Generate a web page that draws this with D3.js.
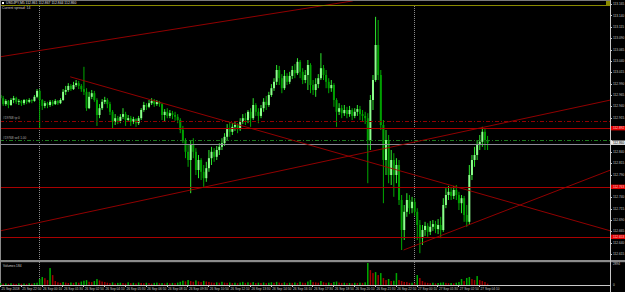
<!DOCTYPE html>
<html><head><meta charset="utf-8">
<script src="https://cdn.jsdelivr.net/npm/d3@7"></script>
<style>html,body{margin:0;padding:0;background:#000;overflow:hidden}svg{display:block}</style>
</head><body><svg id="c" width="625" height="292"></svg>
<script>
// ---------------- DATA ----------------
const symbolTitle = "USDJPY,M5  112.861 112.867 112.844 112.860";
const spreadText = "Current spread: 14";
const volumeTitle = "Volumes";
const barStart = Date.UTC(2018, 8, 25, 21, 30);
const barMinutes = 10;

const opens = [
112.965,112.958,112.945,112.952,112.943,112.954,112.958,112.950,112.952,112.947,
112.954,112.950,112.954,112.952,112.961,112.974,112.954,112.941,112.947,112.943,
112.950,112.945,112.952,112.947,112.954,112.972,112.976,112.985,112.978,112.987,
112.991,112.985,112.978,112.972,112.936,112.961,112.969,112.954,112.921,112.936,
112.950,112.954,112.945,112.928,112.906,112.914,112.908,112.917,112.923,112.910,
112.914,112.906,112.912,112.903,112.914,112.932,112.943,112.939,112.947,112.952,
112.945,112.950,112.945,112.921,112.928,112.919,112.925,112.921,112.917,112.910,
112.888,112.866,112.840,112.822,112.855,112.840,112.800,112.822,112.796,112.782,
112.804,112.826,112.840,112.829,112.844,112.851,112.859,112.873,112.892,112.884,
112.895,112.899,112.890,112.906,112.914,112.910,112.928,112.914,112.943,112.928,
112.919,112.936,112.950,112.943,112.965,112.980,112.994,113.020,113.002,112.980,
113.007,112.994,113.007,113.020,113.013,113.038,113.016,112.998,113.009,113.031,
112.987,112.976,112.989,113.002,113.024,113.009,112.994,112.980,112.987,112.954,
112.928,112.936,112.925,112.932,112.923,112.932,112.919,112.928,112.934,112.923,
112.919,112.914,112.866,112.954,112.998,113.075,113.009,112.899,112.822,112.866,
112.789,112.822,112.789,112.811,112.734,112.668,112.708,112.734,112.716,112.730,
112.708,112.679,112.650,112.668,112.677,112.664,112.675,112.681,112.670,112.679,
112.668,112.723,112.745,112.752,112.743,112.756,112.745,112.727,112.738,112.701,
112.686,112.789,112.822,112.833,112.855,112.862,112.884,112.866];

const highs = [
112.976,112.963,112.956,112.954,112.958,112.963,112.961,112.956,112.954,112.956,
112.956,112.958,112.956,112.965,112.978,112.978,112.956,112.952,112.950,112.954,
112.954,112.956,112.954,112.958,112.978,112.985,112.991,112.989,112.994,112.998,
112.996,112.989,113.027,112.980,112.972,112.976,112.974,112.958,112.945,112.956,
112.961,112.958,112.950,112.932,112.923,112.919,112.923,112.936,112.928,112.921,
112.919,112.917,112.914,112.919,112.936,112.950,112.947,112.954,112.958,112.956,
112.954,112.952,112.947,112.934,112.936,112.932,112.930,112.928,112.923,112.914,
112.897,112.870,112.855,112.866,112.870,112.848,112.833,112.826,112.811,112.818,
112.844,112.851,112.848,112.853,112.859,112.870,112.881,112.901,112.906,112.903,
112.906,112.903,112.914,112.923,112.925,112.932,112.936,112.958,112.947,112.936,
112.943,112.958,112.963,112.972,112.989,113.002,113.031,113.029,113.011,113.020,
113.013,113.016,113.029,113.033,113.046,113.042,113.024,113.020,113.042,113.035,
112.998,113.002,113.011,113.057,113.031,113.020,113.002,112.998,112.991,112.958,
112.947,112.943,112.943,112.939,112.941,112.936,112.936,112.943,112.941,112.932,
112.928,112.925,112.965,113.009,113.137,113.130,113.020,112.910,112.888,112.877,
112.844,112.837,112.826,112.822,112.745,112.723,112.749,112.745,112.741,112.738,
112.716,112.690,112.679,112.686,112.683,112.688,112.690,112.688,112.692,112.697,
112.738,112.760,112.765,112.763,112.765,112.767,112.752,112.745,112.743,112.723,
112.811,112.833,112.851,112.866,112.877,112.895,112.892,112.875];

const lows = [
112.954,112.941,112.941,112.936,112.941,112.947,112.945,112.943,112.941,112.943,
112.945,112.947,112.947,112.950,112.958,112.892,112.932,112.936,112.936,112.939,
112.941,112.943,112.943,112.945,112.952,112.965,112.972,112.974,112.976,112.983,
112.978,112.972,112.965,112.930,112.934,112.956,112.950,112.897,112.914,112.932,
112.945,112.936,112.921,112.892,112.899,112.901,112.903,112.912,112.897,112.906,
112.897,112.901,112.895,112.899,112.910,112.928,112.932,112.936,112.943,112.939,
112.941,112.939,112.910,112.906,112.914,112.914,112.912,112.908,112.903,112.881,
112.859,112.826,112.807,112.749,112.826,112.789,112.782,112.778,112.763,112.774,
112.796,112.811,112.818,112.822,112.833,112.844,112.853,112.866,112.873,112.877,
112.886,112.881,112.886,112.901,112.899,112.903,112.895,112.910,112.919,112.903,
112.914,112.928,112.932,112.939,112.961,112.974,112.987,112.987,112.969,112.976,
112.987,112.989,113.000,113.002,113.009,113.002,112.989,112.991,112.976,112.969,
112.965,112.961,112.980,112.998,112.998,112.980,112.969,112.972,112.939,112.895,
112.921,112.914,112.919,112.914,112.917,112.910,112.914,112.919,112.910,112.906,
112.901,112.771,112.844,112.932,112.994,112.998,112.888,112.727,112.789,112.771,
112.767,112.741,112.771,112.723,112.624,112.646,112.697,112.703,112.705,112.699,
112.646,112.617,112.635,112.655,112.653,112.657,112.666,112.661,112.659,112.650,
112.664,112.716,112.734,112.734,112.736,112.734,112.712,112.705,112.686,112.675,
112.679,112.778,112.807,112.822,112.844,112.851,112.844,112.844];

const closes = [
112.958,112.945,112.952,112.943,112.954,112.958,112.950,112.952,112.947,112.954,
112.950,112.954,112.952,112.961,112.974,112.954,112.941,112.947,112.943,112.950,
112.945,112.952,112.947,112.954,112.972,112.976,112.985,112.978,112.987,112.991,
112.985,112.978,112.972,112.936,112.961,112.969,112.954,112.921,112.936,112.950,
112.954,112.945,112.928,112.906,112.914,112.908,112.917,112.923,112.910,112.914,
112.906,112.912,112.903,112.914,112.932,112.943,112.939,112.947,112.952,112.945,
112.950,112.945,112.921,112.928,112.919,112.925,112.921,112.917,112.910,112.888,
112.866,112.840,112.822,112.855,112.840,112.800,112.822,112.796,112.782,112.804,
112.826,112.840,112.829,112.844,112.851,112.859,112.873,112.892,112.884,112.895,
112.899,112.890,112.906,112.914,112.910,112.928,112.914,112.943,112.928,112.919,
112.936,112.950,112.943,112.965,112.980,112.994,113.020,113.002,112.980,113.007,
112.994,113.007,113.020,113.013,113.038,113.016,112.998,113.009,113.031,112.987,
112.976,112.989,113.002,113.024,113.009,112.994,112.980,112.987,112.954,112.928,
112.936,112.925,112.932,112.923,112.932,112.919,112.928,112.934,112.923,112.919,
112.914,112.866,112.954,112.998,113.075,113.009,112.899,112.822,112.866,112.789,
112.822,112.789,112.811,112.734,112.668,112.708,112.734,112.716,112.730,112.708,
112.679,112.650,112.668,112.677,112.664,112.675,112.681,112.670,112.679,112.668,
112.723,112.745,112.752,112.743,112.756,112.745,112.727,112.738,112.701,112.686,
112.789,112.822,112.833,112.855,112.862,112.884,112.866,112.860];

const volumes = [
240,180,210,160,230,190,150,220,170,200,160,230,180,260,
300,790,1050,900,640,2230,1300,520,
350,280,390,310,260,330,280,370,300,
450,560,640,420,380,520,780,600,450,390,
300,250,340,220,280,310,260,200,350,240,290,210,330,270,230,300,250,190,280,320,240,260,210,300,230,280,250,310,
420,560,480,650,520,430,600,470,380,540,460,400,
330,290,350,300,420,310,280,330,260,300,240,320,410,280,350,300,380,260,310,270,
330,250,300,360,290,410,320,270,350,240,300,280,330,260,420,310,280,450,660,380,
340,300,520,360,290,330,250,400,460,320,280,300,250,270,230,290,260,310,280,350,
2894,1960,1570,1700,1310,1570,920,650,790,520,560,1570,650,520,400,390,280,300,260,1310,
920,520,330,280,240,300,220,260,310,350,280,240,260,220,300,390,790,520,920,1050,
790,650,1180,650,520,390,184];

const priceTicks = [113.165,113.140,113.115,113.090,113.065,113.040,113.015,112.990,112.965,112.940,
  112.915,112.890,112.865,112.840,112.815,112.790,112.765,112.740,112.715,112.690,112.665,112.640,112.615];

const timeTicks = ["2018-09-25T21:30","2018-09-25T22:50","2018-09-26T00:10","2018-09-26T01:30","2018-09-26T02:50",
  "2018-09-26T04:10","2018-09-26T05:30","2018-09-26T06:50","2018-09-26T08:10","2018-09-26T09:30","2018-09-26T10:50",
  "2018-09-26T12:10","2018-09-26T13:30","2018-09-26T14:50","2018-09-26T16:10","2018-09-26T17:30","2018-09-26T18:50",
  "2018-09-26T20:10","2018-09-26T21:30","2018-09-26T22:50","2018-09-27T00:10","2018-09-27T01:30","2018-09-27T02:50",
  "2018-09-27T04:10"];
const timeTickLabels = ["25 Sep 2018","25 Sep 22:50","26 Sep 00:10","26 Sep 01:30","26 Sep 02:50","26 Sep 04:10",
  "26 Sep 05:30","26 Sep 06:50","26 Sep 08:10","26 Sep 09:30","26 Sep 10:50","26 Sep 12:10","26 Sep 13:30",
  "26 Sep 14:50","26 Sep 16:10","26 Sep 17:30","26 Sep 18:50","26 Sep 20:10","26 Sep 21:30","26 Sep 22:50",
  "27 Sep 00:10","27 Sep 01:30","27 Sep 02:50","27 Sep 04:10"];

const daySeparators = ["2018-09-26T00:00","2018-09-27T00:00"];

const solidLevels = [112.892, 112.763, 112.653];
const dashRedLevels = [112.908];
const dashGreenLevels = [112.865];
const levelNotes = ["#19768 tp 0", "#19768 sell 1.00"];
const levelNotePrices = [112.908, 112.865];

const trendStartTimes = ["2018-09-25T21:30","2018-09-26T02:00","2018-09-25T21:30","2018-09-26T23:20"];
const trendStartPrices = [113.049, 113.005, 112.666, 112.624];
const trendEndTimes = ["2018-09-26T20:05","2018-09-27T12:35","2018-09-27T12:35","2018-09-27T12:35"];
const trendEndPrices = [113.172, 112.666, 112.954, 112.800];

// ---------------- LAYOUT ----------------
const svg = d3.select("#c");
const plotRight = 610, mainBottom = 259, volTop = 263, volBottom = 285;
const parseT = s => new Date(s + ":00Z");
const FONT = "Liberation Sans, Arial, sans-serif";

const x = d3.scaleUtc().domain([Date.UTC(2018,8,26), Date.UTC(2018,8,27)]).range([39, 414]);
const y = d3.scaleLinear().domain([113.174, 112.5316]).range([0, 292]);
const yv = d3.scaleLinear().domain([0, d3.max(volumes)]).range([volBottom, volTop]);

svg.append("rect").attr("width", 625).attr("height", 292).attr("fill", "#000");

const defs = svg.append("defs");
defs.append("clipPath").attr("id", "mainClip").append("rect")
  .attr("x", 0).attr("y", 0).attr("width", plotRight).attr("height", mainBottom);
defs.append("clipPath").attr("id", "volClip").append("rect")
  .attr("x", 0).attr("y", volTop - 1).attr("width", plotRight).attr("height", volBottom - volTop + 1);

// day separators
svg.append("g").selectAll("line").data(daySeparators).join("line")
  .attr("x1", d => Math.round(x(parseT(d))) + 0.5).attr("x2", d => Math.round(x(parseT(d))) + 0.5)
  .attr("y1", 6).attr("y2", volBottom)
  .attr("stroke", "#8a8a8a").attr("stroke-width", 1).attr("stroke-dasharray", "1,1");

const main = svg.append("g").attr("clip-path", "url(#mainClip)");

// candles
const half = barMinutes * 60000 / 4;
const bars = closes.map((c, i) => ({
  t: new Date(barStart + i * barMinutes * 60000 + half),
  o: opens[i], h: highs[i], l: lows[i], c: c
}));
const bullBody = "#8cff8c", bullWick = "#2ee82e", bearBody = "#00a000", bearWick = "#00a800";
const cg = main.append("g");
bars.forEach(b => {
  const cx = x(b.t);
  const up = b.c >= b.o;
  const hi = Math.max(b.h, b.o, b.c), lo = Math.min(b.l, b.o, b.c);
  cg.append("rect").attr("x", cx - 0.5).attr("width", 1)
    .attr("y", y(hi)).attr("height", Math.max(0.8, y(lo) - y(hi)))
    .attr("fill", up ? bullWick : bearWick);
  const top = y(Math.max(b.o, b.c)), bot = y(Math.min(b.o, b.c));
  cg.append("rect").attr("x", cx - 1).attr("width", 2)
    .attr("y", top).attr("height", Math.max(1, bot - top))
    .attr("fill", up ? bullBody : bearBody);
});

// horizontal levels
const lv = main.append("g");
lv.selectAll(".sl").data(solidLevels).join("line")
  .attr("x1", 0).attr("x2", plotRight)
  .attr("y1", d => Math.round(y(d)) + 0.5).attr("y2", d => Math.round(y(d)) + 0.5)
  .attr("stroke", "#a80000").attr("stroke-width", 1);
lv.selectAll(".dr").data(dashRedLevels).join("line")
  .attr("x1", 0).attr("x2", plotRight)
  .attr("y1", d => Math.round(y(d)) + 0.5).attr("y2", d => Math.round(y(d)) + 0.5)
  .attr("stroke", "#900000").attr("stroke-width", 1).attr("stroke-dasharray", "4,2,1,2");
lv.selectAll(".dg").data(dashGreenLevels).join("line")
  .attr("x1", 0).attr("x2", plotRight)
  .attr("y1", d => Math.round(y(d)) + 0.5).attr("y2", d => Math.round(y(d)) + 0.5)
  .attr("stroke", "#1e7a1e").attr("stroke-width", 1).attr("stroke-dasharray", "4,2,1,2");
const lastClose = closes[closes.length - 1];
lv.append("line").attr("x1", 0).attr("x2", plotRight)
  .attr("y1", Math.round(y(lastClose)) + 1.5).attr("y2", Math.round(y(lastClose)) + 1.5)
  .attr("stroke", "#8c8c96").attr("stroke-width", 1);

// trend lines
lv.selectAll(".tl").data(trendStartTimes).join("line")
  .attr("x1", (d, i) => x(parseT(d))).attr("y1", (d, i) => y(trendStartPrices[i]))
  .attr("x2", (d, i) => x(parseT(trendEndTimes[i]))).attr("y2", (d, i) => y(trendEndPrices[i]))
  .attr("stroke", "#a00000").attr("stroke-width", 0.9);

// level notes
lv.selectAll(".nt").data(levelNotes).join("text")
  .attr("x", 3).attr("y", (d, i) => y(levelNotePrices[i]) - 1.5)
  .attr("font-family", FONT).attr("font-size", 3.2)
  .attr("fill", "#b0b0b0").text(d => d);

// top olive line
svg.append("line").attr("x1", 0).attr("x2", plotRight).attr("y1", 5.5).attr("y2", 5.5)
  .attr("stroke", "#8a8a00").attr("stroke-width", 1);
svg.append("rect").attr("x", 606).attr("y", 1).attr("width", 4).attr("height", 4).attr("fill", "#8a8a00");

// title
svg.append("rect").attr("x", 0).attr("y", 0).attr("width", plotRight).attr("height", 1).attr("fill", "#7a7a7a");
svg.append("rect").attr("x", 1).attr("y", 1).attr("width", 72).attr("height", 4).attr("fill", "#000");
svg.append("rect").attr("x", 2).attr("y", 2).attr("width", 2).attr("height", 2).attr("fill", "#fff");
svg.append("text").attr("x", 6).attr("y", 4.4).attr("font-family", FONT)
  .attr("font-size", 3.4).attr("fill", "#e0e0e0").text(symbolTitle);
svg.append("text").attr("x", 2).attr("y", 9).attr("font-family", FONT)
  .attr("font-size", 3.4).attr("fill", "#d0d0d0").text(spreadText);

// left border
svg.append("rect").attr("x", 0).attr("y", 0).attr("width", 1).attr("height", volBottom).attr("fill", "#8a8a8a");

// separator between panels
svg.append("rect").attr("x", 0).attr("y", 260).attr("width", plotRight + 15).attr("height", 2.2).attr("fill", "#8c8c8c");

// volumes
const vg = svg.append("g").attr("clip-path", "url(#volClip)");
vg.selectAll("rect").data(volumes).join("rect")
  .attr("x", (d, i) => x(bars[i].t) - 0.75).attr("width", 1.5)
  .attr("y", d => yv(d)).attr("height", d => volBottom - yv(d))
  .attr("fill", (d, i) => (i === 0 || d >= volumes[i - 1]) ? "#00a800" : "#a00000");
svg.append("text").attr("x", 3).attr("y", 266.5).attr("font-family", FONT)
  .attr("font-size", 3.2).attr("fill", "#c8c8c8").text(volumeTitle + " " + volumes[volumes.length - 1]);

// axes lines
svg.append("line").attr("x1", plotRight + 0.5).attr("x2", plotRight + 0.5).attr("y1", 0).attr("y2", 292)
  .attr("stroke", "#c8c8c8").attr("stroke-width", 1);
svg.append("line").attr("x1", 0).attr("x2", plotRight + 1).attr("y1", volBottom + 0.5).attr("y2", volBottom + 0.5)
  .attr("stroke", "#c8c8c8").attr("stroke-width", 1);

// right price axis: ticks hidden where a highlighted box covers them
const boxPrices = solidLevels.concat([lastClose]);
const visibleTicks = priceTicks.filter(p => boxPrices.every(b => Math.abs(y(b) - y(p)) > 4.6));
const pa = svg.append("g");
pa.selectAll("line").data(priceTicks).join("line")
  .attr("x1", plotRight).attr("x2", plotRight + 2)
  .attr("y1", d => Math.round(y(d)) + 0.5).attr("y2", d => Math.round(y(d)) + 0.5)
  .attr("stroke", "#c8c8c8");
pa.selectAll("text").data(visibleTicks).join("text")
  .attr("x", plotRight + 3).attr("y", d => y(d) + 1.1)
  .attr("font-family", FONT).attr("font-size", 3.2)
  .attr("fill", "#c8c8c8").text(d => d.toFixed(3));

// highlighted price labels
function priceBox(p, fill, color) {
  const yy = y(p);
  pa.append("rect").attr("x", plotRight + 1).attr("y", yy - 2.2).attr("width", 14).attr("height", 4.4).attr("fill", fill);
  pa.append("text").attr("x", plotRight + 3).attr("y", yy + 1.1)
    .attr("font-family", FONT).attr("font-size", 3.2)
    .attr("fill", color).text(p.toFixed(3));
}
solidLevels.forEach(p => priceBox(p, "#e00000", "#ffd0d0"));
priceBox(lastClose, "#e8e8e8", "#000");

// volume axis labels
svg.append("text").attr("x", plotRight + 3).attr("y", volTop + 1.5)
  .attr("font-family", FONT).attr("font-size", 3.2)
  .attr("fill", "#c8c8c8").text(d3.max(volumes));
svg.append("text").attr("x", plotRight + 3).attr("y", volBottom + 1)
  .attr("font-family", FONT).attr("font-size", 3.2)
  .attr("fill", "#c8c8c8").text("0");

// time axis
const ta = svg.append("g");
ta.selectAll("line").data(timeTicks).join("line")
  .attr("x1", d => Math.round(x(parseT(d))) + 0.5).attr("x2", d => Math.round(x(parseT(d))) + 0.5)
  .attr("y1", volBottom).attr("y2", volBottom + 2).attr("stroke", "#c8c8c8");
ta.selectAll("text").data(timeTicks).join("text")
  .attr("x", d => Math.max(1.5, x(parseT(d)) + 1.5)).attr("y", 290.3)
  .attr("font-family", FONT).attr("font-size", 3.2)
  .attr("fill", "#c8c8c8").text((d, i) => timeTickLabels[i]);
</script></body></html>
